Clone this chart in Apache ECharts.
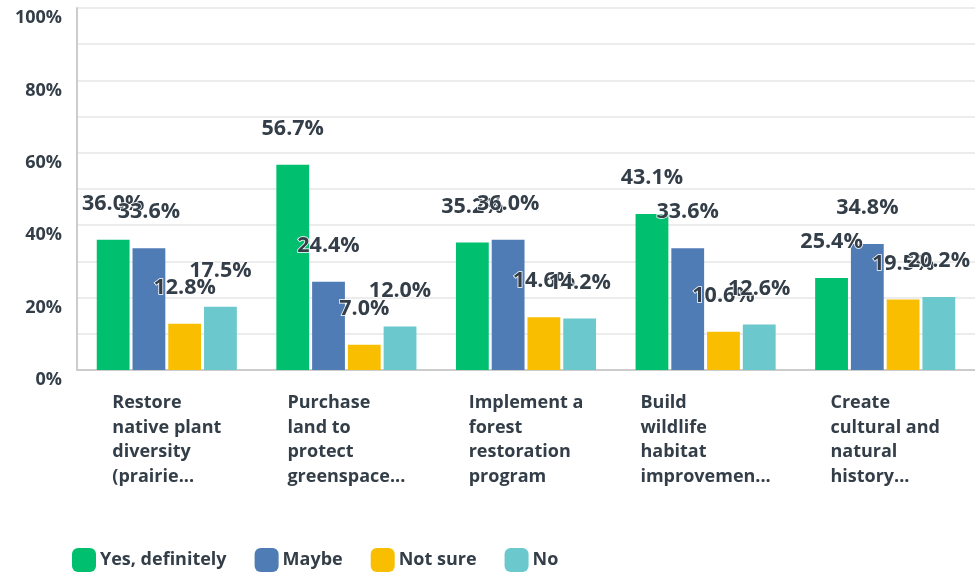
<!DOCTYPE html>
<html>
<head>
<meta charset="utf-8">
<script src="https://cdn.jsdelivr.net/npm/echarts@6/dist/echarts.min.js"></script>
<style>
html,body{margin:0;padding:0;background:#fff;}
#chart{width:975px;height:578px;}
</style>
</head>
<body>
<div id="chart"></div>
<script>
const categories = [
  "Restore\nnative plant\ndiversity\n(prairie...",
  "Purchase\nland to\nprotect\ngreenspace...",
  "Implement a\nforest\nrestoration\nprogram",
  "Build\nwildlife\nhabitat\nimprovemen...",
  "Create\ncultural and\nnatural\nhistory..."
];
const seriesNames = ["Yes, definitely", "Maybe", "Not sure", "No"];
const yesDefinitely = [36.0, 56.7, 35.2, 43.1, 25.4];
const maybe = [33.6, 24.4, 36.0, 33.6, 34.8];
const notSure = [12.8, 7.0, 14.6, 10.6, 19.5];
const no = [17.5, 12.0, 14.2, 12.6, 20.2];
const colors = ["#00bf6f", "#507cb6", "#f9be00", "#6bc8cd"];

const textColor = "#333e48";
const fontFam = "'Open Sans', sans-serif";

const chart = echarts.init(document.getElementById('chart'));
const values = [yesDefinitely, maybe, notSure, no];

chart.setOption({
  animation: false,
  color: colors,
  grid: { left: 77, right: 0, top: 8, bottom: 208, containLabel: false },
  legend: {
    left: 72, top: 548, padding: 0,
    itemWidth: 24, itemHeight: 24, itemGap: 28,
    icon: 'roundRect',
    textStyle: { color: textColor, fontSize: 18, fontWeight: 'bold', fontFamily: fontFam, padding: [0,0,0,-1] },
    data: seriesNames
  },
  xAxis: {
    type: 'category',
    data: categories,
    axisLine: { lineStyle: { color: '#cccccc', width: 2 } },
    axisTick: { show: false },
    axisLabel: {
      interval: 0,
      margin: 21,
      color: textColor,
      fontSize: 18,
      fontWeight: 'bold',
      fontFamily: fontFam,
      lineHeight: 24.5,
      formatter: function (v) {
        return v.split('\n').map(function (l) { return '{a|' + l + '}'; }).join('\n');
      },
      rich: {
        a: { align: 'left', color: textColor, fontSize: 18, fontWeight: 'bold', fontFamily: fontFam, lineHeight: 24.5 }
      }
    }
  },
  yAxis: {
    type: 'value',
    min: 0, max: 100, interval: 10,
    axisLine: { show: true, lineStyle: { color: '#cccccc', width: 2 } },
    axisTick: { show: false },
    splitLine: { lineStyle: { color: '#ececec', width: 2 } },
    axisLabel: {
      margin: 15,
      color: textColor,
      fontSize: 18,
      fontWeight: 'bold',
      fontFamily: fontFam,
      verticalAlign: 'top',
      padding: [1, 0, 0, 0],
      formatter: function (v) { return (v % 20 === 0) ? v + '%' : ''; }
    }
  },
  series: seriesNames.map(function (name, i) {
    return {
      name: name,
      type: 'bar',
      data: values[i],
      barGap: '9%',
      barCategoryGap: '22%',
      label: {
        show: true,
        position: 'top',
        distance: 25,
        color: textColor,
        fontSize: 21.5,
        fontWeight: 'bold',
        fontFamily: fontFam,
        textBorderColor: '#fff',
        textBorderWidth: 1.5,
        formatter: function (p) { return p.value.toFixed(1) + '%'; }
      }
    };
  })
});
</script>
</body>
</html>
